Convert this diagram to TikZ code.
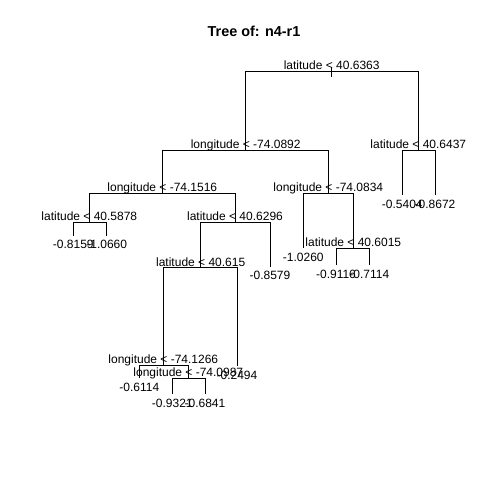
\documentclass[tikz,border=0pt]{standalone}
\usepackage{fontspec}
\setmainfont{Liberation Sans}
\begin{document}
\begin{tikzpicture}[x=1pt,y=-1pt,
  edge/.style={draw=black,line width=0.8pt},
  split/.style={anchor=base,inner sep=0pt,font=\fontsize{12}{14}\selectfont},
  leaflab/.style={anchor=base,inner sep=0pt,font=\fontsize{12}{14}\selectfont},
  titlelab/.style={anchor=base,inner sep=0pt,font=\fontsize{14.4}{16}\selectfont\bfseries}]
\useasboundingbox (0,0) rectangle (480,480);
\node[titlelab] (title) at (254,36) {Tree of: n4-r1};
% internal nodes
\coordinate (n1) at (331.7,71);
\coordinate (n2) at (245.7,150);
\coordinate (n3) at (418.3,150);
\coordinate (n4) at (162.3,193.3);
\coordinate (n5) at (328.3,193.3);
\coordinate (n6) at (89.3,222.3);
\coordinate (n7) at (235,222.3);
\coordinate (n8) at (353.3,248.3);
\coordinate (n9) at (200.7,267.5);
\coordinate (n10) at (163.3,365);
\coordinate (n11) at (188.3,378.3);
% leaves
\coordinate (l1) at (402.3,195);
\coordinate (l2) at (435,195);
\coordinate (l3) at (73.3,235.7);
\coordinate (l4) at (106.7,235.7);
\coordinate (l5) at (303.3,248.3);
\coordinate (l6) at (336,265);
\coordinate (l7) at (369.3,265);
\coordinate (l8) at (270,266.7);
\coordinate (l9) at (237,366);
\coordinate (l10) at (139.3,378.3);
\coordinate (l11) at (172.3,394);
\coordinate (l12) at (205,394);
% root tick
\coordinate (rt1) at (331.7,66.7);
\coordinate (rt2) at (331.7,77.3);
\draw[edge] (rt1) -- (rt2);
% edges
\draw[edge] (n1) -| (n2);
\draw[edge] (n1) -| (n3);
\draw[edge] (n2) -| (n4);
\draw[edge] (n2) -| (n5);
\draw[edge] (n3) -| (l1);
\draw[edge] (n3) -| (l2);
\draw[edge] (n4) -| (n6);
\draw[edge] (n4) -| (n7);
\draw[edge] (n5) -| (l5);
\draw[edge] (n5) -| (n8);
\draw[edge] (n6) -| (l3);
\draw[edge] (n6) -| (l4);
\draw[edge] (n7) -| (n9);
\draw[edge] (n7) -| (l8);
\draw[edge] (n8) -| (l6);
\draw[edge] (n8) -| (l7);
\draw[edge] (n9) -| (n10);
\draw[edge] (n9) -| (l9);
\draw[edge] (n10) -| (l10);
\draw[edge] (n10) -| (n11);
\draw[edge] (n11) -| (l11);
\draw[edge] (n11) -| (l12);
% split labels
\node[split] (s1) at ([yshift=1.5pt]n1) {latitude < 40.6363};
\node[split] (s2) at ([yshift=1.5pt]n2) {longitude < -74.0892};
\node[split] (s3) at ([yshift=1.5pt]n3) {latitude < 40.6437};
\node[split] (s4) at ([yshift=1.5pt]n4) {longitude < -74.1516};
\node[split] (s5) at ([yshift=1.5pt]n5) {longitude < -74.0834};
\node[split] (s6) at ([yshift=1.5pt]n6) {latitude < 40.5878};
\node[split] (s7) at ([yshift=1.5pt]n7) {latitude < 40.6296};
\node[split] (s8) at ([yshift=1.5pt]n8) {latitude < 40.6015};
\node[split] (s9) at ([yshift=1.5pt]n9) {latitude < 40.615};
\node[split] (s10) at ([yshift=1.5pt]n10) {longitude < -74.1266};
\node[split] (s11) at ([yshift=1.5pt]n11) {longitude < -74.0987};
% leaf labels
\node[leaflab] (v1) at ([yshift=-13pt]l1) {-0.5404};
\node[leaflab] (v2) at ([yshift=-13pt]l2) {-0.8672};
\node[leaflab] (v3) at ([yshift=-13pt]l3) {-0.8159};
\node[leaflab] (v4) at ([yshift=-13pt]l4) {-1.0660};
\node[leaflab] (v5) at ([yshift=-13pt]l5) {-1.0260};
\node[leaflab] (v6) at ([yshift=-13pt]l6) {-0.9116};
\node[leaflab] (v7) at ([yshift=-13pt]l7) {-0.7114};
\node[leaflab] (v8) at ([yshift=-13pt]l8) {-0.8579};
\node[leaflab] (v9) at ([yshift=-13pt]l9) {-0.2494};
\node[leaflab] (v10) at ([yshift=-13pt]l10) {-0.6114};
\node[leaflab] (v11) at ([yshift=-13pt]l11) {-0.9321};
\node[leaflab] (v12) at ([yshift=-13pt]l12) {-0.6841};
\end{tikzpicture}
\end{document}
